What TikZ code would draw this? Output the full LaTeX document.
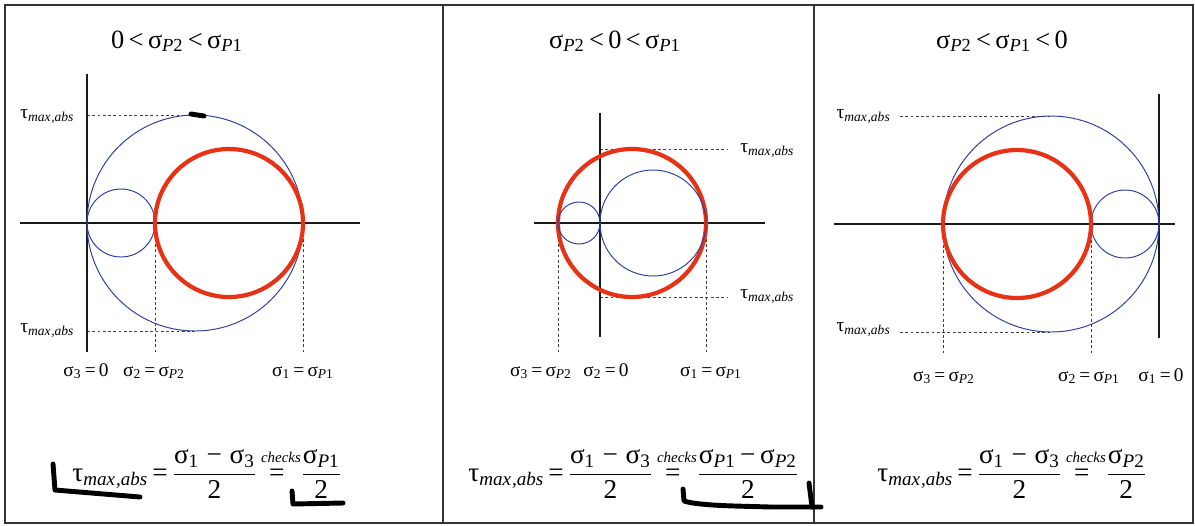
\documentclass[tikz,border=0pt]{standalone}
\usepackage{fontspec}
\setmainfont{Liberation Serif}
\definecolor{mred}{RGB}{232,50,22}
\definecolor{mblue}{RGB}{45,62,160}
\newcommand\sig[1]{σ\textsubscript{#1}}
\newcommand\tmx{τ\textsubscript{\itshape max\kern0.05em,abs}}
\newcommand\Pe{{\itshape P}}
\newsavebox\chkbox
\newcommand\chkeq{\mbox{\sbox\chkbox{\fontsize{8.5}{9}\selectfont\itshape checks}\rlap{\raisebox{10.5pt}{\usebox\chkbox}}\makebox[\wd\chkbox][l]{\hspace{0.3em}=}}}
\begin{document}
\begin{tikzpicture}[x=0.02cm,y=-0.02cm,
  frame/.style={draw=black!80,line width=1pt},
  axis/.style={draw=black!90,line width=0.9pt},
  mohr/.style={draw=mblue,line width=0.55pt},
  redc/.style={draw=mred,line width=2.4pt},
  guide/.style={draw=black!75,line width=0.4pt,dash pattern=on 1.6pt off 1.4pt},
  scrib/.style={draw=black,line width=2.8pt,line cap=round,line join=round},
  ttl/.style={anchor=base,inner sep=0pt,font=\fontsize{15}{18}\selectfont},
  lbl/.style={anchor=base,inner sep=0pt,font=\fontsize{11}{13}\selectfont},
  tlbl/.style={inner sep=0pt,font=\fontsize{11}{13}\selectfont},
  fml/.style={anchor=base west,inner sep=0pt,font=\fontsize{15.5}{18}\selectfont}]
\useasboundingbox (0,0) rectangle (1195,525);
\fill[white] (0,0) rectangle (1195,525);
% frame
\draw[frame] (5,5) rectangle (1193,523);
\draw[frame] (443,5) -- (443,523);
\draw[frame] (814,5) -- (814,523);

% ---------- panel 1 ----------
\node[ttl] (t1) at (177,48) {0\,<\,\sig{\Pe2}\,<\,\sig{\Pe1}};
\draw[guide] (87,115) -- (195,115);
\draw[guide] (87,331) -- (195,331);
\draw[guide] (155,223) -- (155,352);
\draw[guide] (303,223) -- (303,352);
\draw[axis] (87,74) -- (87,352);
\draw[axis] (20,223) -- (360,223);
\draw[mohr] (195,223) circle[radius=108];
\draw[mohr] (121,223) circle[radius=34];
\draw[redc] (229,223) circle[radius=74];
\node[tlbl,anchor=west] (a1) at (20,117) {\tmx};
\node[tlbl,anchor=west] (b1) at (20,331) {\tmx};
\node[lbl] (c1) at (86,376) {\sig3\,=\,0};
\node[lbl] (d1) at (154,376) {\sig2\,=\,\sig{\Pe2}};
\node[lbl] (e1) at (303,376) {\sig1\,=\,\sig{\Pe1}};
\node[fml] (f1) at (72,481) {$\thickmuskip=3mu\displaystyle\mbox{\tmx}\mathrel{\mbox{=}}\frac{\mbox{\sig1\;−\;\sig3}}{\mbox{2}}\,\chkeq\frac{\mbox{\sig{\Pe1}}}{\mbox{2}}$};

% ---------- panel 2 ----------
\node[ttl] (t2) at (615,48) {\sig{\Pe2}\,<\,0\,<\,\sig{\Pe1}};
\draw[guide] (600,149) -- (728,149);
\draw[guide] (600,297) -- (728,297);
\draw[guide] (558,223) -- (558,352);
\draw[guide] (706,223) -- (706,352);
\draw[axis] (600,113) -- (600,337);
\draw[axis] (534,223) -- (765,223);
\draw[redc] (632,223) circle[radius=74];
\draw[mohr] (579,223) circle[radius=21];
\draw[mohr] (653,223) circle[radius=53];
\node[tlbl,anchor=west] (a2) at (740,151) {\tmx};
\node[tlbl,anchor=west] (b2) at (740,297) {\tmx};
\node[lbl] (c2) at (541,376) {\sig3\,=\,\sig{\Pe2}};
\node[lbl] (d2) at (606,376) {\sig2\,=\,0};
\node[lbl] (e2) at (711,376) {\sig1\,=\,\sig{\Pe1}};
\node[fml] (f2) at (468,481) {$\thickmuskip=3mu\displaystyle\mbox{\tmx}\mathrel{\mbox{=}}\frac{\mbox{\sig1\;−\;\sig3}}{\mbox{2}}\,\chkeq\frac{\mbox{\sig{\Pe1}\,−\,\sig{\Pe2}}}{\mbox{2}}$};

% ---------- panel 3 ----------
\node[ttl] (t3) at (1002,48) {\sig{\Pe2}\,<\,\sig{\Pe1}\,<\,0};
\draw[guide] (900,116) -- (1051,116);
\draw[guide] (900,332) -- (1051,332);
\draw[guide] (943,224) -- (943,353);
\draw[guide] (1091,224) -- (1091,353);
\draw[axis] (1159,94) -- (1159,338);
\draw[axis] (834,224) -- (1175,224);
\draw[mohr] (1051,224) circle[radius=108];
\draw[mohr] (1125,224) circle[radius=34];
\draw[redc] (1017,224) circle[radius=74];
\node[tlbl,anchor=east] (a3) at (891,117) {\tmx};
\node[tlbl,anchor=east] (b3) at (891,330) {\tmx};
\node[lbl] (c3) at (944,381) {\sig3\,=\,\sig{\Pe2}};
\node[lbl] (d3) at (1089,381) {\sig2\,=\,\sig{\Pe1}};
\node[lbl] (e3) at (1161,381) {\sig1\,=\,0};
\node[fml] (f3) at (877,481) {$\thickmuskip=3mu\displaystyle\mbox{\tmx}\mathrel{\mbox{=}}\frac{\mbox{\sig1\;−\;\sig3}}{\mbox{2}}\,\chkeq\frac{\mbox{\sig{\Pe2}}}{\mbox{2}}$};

% ---------- hand marks ----------
\draw[scrib] (191,114) -- (204,116);
\draw[scrib] (53,464) -- (55,490) -- (140,497);
\draw[scrib] (292,491) -- (293,504) -- (343,503);
\draw[scrib] (683,489) -- (684,501) .. controls (700,506) and (740,506) .. (770,507) -- (821,507);
\draw[scrib] (809,483) -- (812,507);
\end{tikzpicture}
\end{document}
